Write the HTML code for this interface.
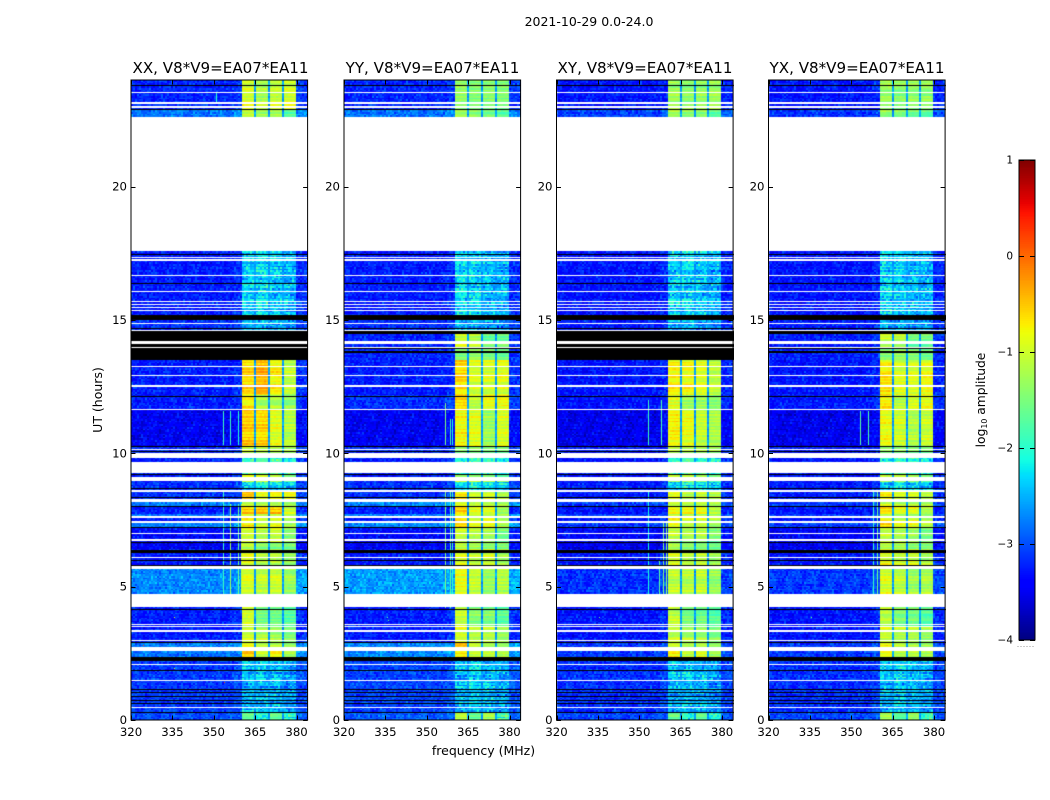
<!DOCTYPE html>
<html lang="en">
<head>
<meta charset="utf-8">
<title>2021-10-29 0.0-24.0</title>
<style>
html,body{margin:0;padding:0;background:#fff;}
#figure{position:relative;width:1050px;height:800px;overflow:hidden;background:#fff;font-family:"DejaVu Sans","Liberation Sans",sans-serif;color:#000;}
canvas{position:absolute;display:block;}
svg{position:absolute;left:0;top:0;}
text{font-family:"DejaVu Sans","Liberation Sans",sans-serif;fill:#000;}
</style>
</head>
<body>
<div id="figure">
  <canvas id="canvas-xx"></canvas>
  <canvas id="canvas-yy"></canvas>
  <canvas id="canvas-xy"></canvas>
  <canvas id="canvas-yx"></canvas>
  <canvas id="canvas-cbar"></canvas>
  <svg id="overlay" width="1050" height="800" viewBox="0 0 1050 800">
    <text x="589" y="26" font-size="12.5" text-anchor="middle">2021-10-29 0.0-24.0</text>
    <text x="220.5" y="73" font-size="15.1" text-anchor="middle">XX, V8*V9=EA07*EA11</text>
    <text x="432.5" y="73" font-size="15.1" text-anchor="middle">YY, V8*V9=EA07*EA11</text>
    <text x="645" y="73" font-size="15.1" text-anchor="middle">XY, V8*V9=EA07*EA11</text>
    <text x="857" y="73" font-size="15.1" text-anchor="middle">YX, V8*V9=EA07*EA11</text>
    <text x="483.5" y="755" font-size="12.5" text-anchor="middle">frequency (MHz)</text>
    <text transform="translate(102,400) rotate(-90)" font-size="12.5" text-anchor="middle">UT (hours)</text>
    <text transform="translate(985,400) rotate(-90)" font-size="12.3" text-anchor="middle">log<tspan font-size="7.8" dy="2">10</tspan><tspan dy="-2"> amplitude</tspan></text>
    <line x1="1017.5" y1="646.5" x2="1035" y2="646.5" stroke="#999" stroke-width="1" stroke-dasharray="1 2"></line>
  </svg>
</div>
<script>
// ---- axis data ----
const panelNames = ['xx', 'yy', 'xy', 'yx'];
const freqTicks = [320, 335, 350, 365, 380];
const hourTicks = [0, 5, 10, 15, 20];
const cbarTicks = [-4, -3, -2, -1, 0, 1];
const cbarTickLabels = ['\u22124', '\u22123', '\u22122', '\u22121', '0', '1'];

// ---- spectral structure (MHz) ----
const bandStarts = [360.4, 365.6, 370.5, 375.6];
const bandEnds = [365.0, 370.0, 375.0, 380.0];
const preBandStart = 357.5;
const gapLevel = -2.6;

// ---- UT segments: the hour at which each row of the level tables begins (top to bottom) ----
const segmentTops = [24, 22.91, 17.59, 15.0, 14.59, 13.95, 13.5, 12.15, 11.63, 10.24, 9.83, 9.26, 8.96, 8.55, 8.18, 7.99, 7.76, 7.61, 7.39, 7.2, 6.68, 6.41, 5.78, 4.73, 3.56, 2.96, 2.59, 2.21, 1.46, 0.3];

// ---- log10 amplitude per segment: [background, band 1, band 2, band 3, band 4] ----
const levelsXX = [
[-3.2,-0.95,-1.2,-1.05,-0.95],[-2.8,-1.05,-1.3,-1.25,-1.7],[-3.25,-2.35,-2.25,-2.4,-2.5],[-3.15,-2.5,-2.5,-2.6,-2.7],[-3.2,-1.2,-1.3,-1.5,-1.5],
[-3.2,-1.2,-1.3,-1.5,-1.5],[-3.25,-0.6,-0.4,-0.75,-1.1],[-3.25,-0.7,-1.2,-1.2,-1.35],[-3.45,-0.55,-0.6,-0.9,-1.15],[-3.15,-1.0,-1.1,-1.1,-1.2],
[-3.25,-1.95,-1.8,-1.85,-2.1],[-3.25,-1.0,-1.0,-1.2,-1.6],[-3.15,-2.25,-2.05,-2.25,-2.35],[-3.15,-0.55,-0.95,-0.85,-0.9],[-2.75,-1.0,-1.1,-1.1,-1.2],
[-3.25,-0.55,-0.5,-0.5,-1.0],[-2.8,-0.95,-1.15,-1.1,-1.2],[-3.25,-0.7,-1.0,-0.9,-1.2],[-2.75,-0.65,-1.0,-0.85,-1.2],[-3.35,-1.05,-1.2,-1.1,-1.45],
[-3.45,-1.1,-1.4,-1.45,-1.5],[-3.25,-0.85,-1.1,-1.1,-1.3],[-2.7,-0.95,-1.1,-1.0,-1.3],[-3.25,-1.0,-1.55,-1.6,-1.75],[-3.25,-1.0,-1.15,-1.25,-1.45],
[-2.75,-0.8,-1.1,-1.1,-1.3],[-2.8,-0.5,-1.0,-0.7,-1.2],[-3.1,-2.4,-2.4,-2.45,-2.6],[-3.1,-2.5,-2.45,-2.5,-2.65],[-3.0,-1.6,-2.0,-1.6,-2.0]];
const levelsYY = [
[-3.2,-1.35,-1.45,-1.4,-1.45],[-2.8,-1.2,-1.35,-1.5,-1.65],[-3.25,-2.25,-2.3,-2.45,-2.5],[-3.15,-2.5,-2.5,-2.6,-2.7],[-3.2,-0.95,-1.1,-1.6,-1.55],
[-3.2,-1.45,-1.3,-1.45,-1.6],[-3.25,-0.6,-0.95,-0.95,-0.9],[-3.15,-0.6,-1.1,-0.85,-0.8],[-3.45,-0.8,-0.9,-1.3,-0.95],[-3.15,-1.4,-1.4,-1.45,-1.5],
[-3.25,-2.1,-1.95,-2.05,-2.2],[-3.25,-1.25,-1.25,-1.35,-1.6],[-3.15,-2.3,-2.15,-2.25,-2.35],[-3.15,-0.7,-1.0,-1.0,-1.2],[-2.7,-0.95,-1.1,-1.15,-1.25],
[-3.25,-0.55,-0.9,-0.9,-1.3],[-2.75,-0.95,-1.1,-1.15,-1.25],[-3.25,-0.6,-1.0,-0.8,-1.2],[-2.7,-0.6,-0.9,-0.85,-1.2],[-3.35,-1.0,-1.1,-1.2,-1.5],
[-3.45,-1.15,-1.3,-1.45,-1.5],[-3.25,-0.85,-1.0,-0.95,-1.2],[-2.6,-0.85,-1.05,-1.3,-1.15],[-3.25,-1.05,-1.45,-1.5,-1.7],[-3.25,-0.95,-1.1,-1.1,-1.3],
[-2.65,-0.3,-0.9,-1.1,-1.2],[-2.7,-0.75,-1.05,-1.1,-1.2],[-3.05,-2.4,-2.3,-2.4,-2.5],[-3.05,-2.45,-2.35,-2.45,-2.55],[-2.95,-1.2,-1.7,-1.3,-1.9]];
const levelsXY = [
[-3.3,-1.3,-1.4,-1.35,-1.3],[-3.05,-1.3,-1.45,-1.45,-1.75],[-3.3,-2.35,-2.3,-2.4,-2.5],[-3.25,-2.55,-2.55,-2.65,-2.7],[-3.25,-1.3,-1.4,-1.6,-1.6],
[-3.25,-1.3,-1.4,-1.6,-1.6],[-3.3,-0.75,-0.8,-0.9,-1.1],[-3.3,-0.9,-1.3,-1.3,-1.4],[-3.5,-0.75,-0.85,-1.05,-1.2],[-3.25,-1.2,-1.25,-1.25,-1.35],
[-3.3,-2.05,-1.9,-1.95,-2.15],[-3.3,-1.15,-1.15,-1.3,-1.6],[-3.25,-2.3,-2.15,-2.25,-2.35],[-3.25,-0.8,-1.05,-0.95,-1.05],[-3.1,-1.15,-1.2,-1.2,-1.3],
[-3.3,-0.75,-0.7,-0.75,-1.1],[-3.1,-1.1,-1.2,-1.2,-1.3],[-3.3,-0.85,-1.05,-1.0,-1.25],[-3.1,-0.8,-1.05,-1.0,-1.25],[-3.4,-1.15,-1.25,-1.2,-1.5],
[-3.5,-1.2,-1.4,-1.45,-1.55],[-3.3,-0.95,-1.15,-1.1,-1.3],[-3.15,-1.1,-1.15,-1.1,-1.35],[-3.3,-1.1,-1.55,-1.6,-1.75],[-3.3,-1.05,-1.2,-1.25,-1.45],
[-3.1,-0.95,-1.15,-1.15,-1.3],[-3.1,-0.7,-1.05,-0.9,-1.25],[-3.15,-2.4,-2.4,-2.45,-2.6],[-3.15,-2.5,-2.45,-2.5,-2.65],[-3.05,-1.6,-1.95,-1.65,-2.0]];
const levelsYX = [
[-3.3,-1.35,-1.45,-1.4,-1.4],[-3.1,-1.3,-1.4,-1.5,-1.65],[-3.3,-2.3,-2.35,-2.45,-2.5],[-3.25,-2.55,-2.55,-2.65,-2.7],[-3.25,-1.05,-1.15,-1.6,-1.55],
[-3.25,-1.45,-1.35,-1.45,-1.6],[-3.3,-0.7,-0.95,-0.95,-0.85],[-3.25,-0.7,-1.15,-0.95,-0.85],[-3.5,-0.85,-1.0,-1.2,-1.05],[-3.25,-1.4,-1.4,-1.45,-1.5],
[-3.3,-2.1,-1.95,-2.05,-2.2],[-3.3,-1.25,-1.25,-1.35,-1.6],[-3.25,-2.3,-2.15,-2.25,-2.35],[-3.25,-0.8,-1.05,-1.05,-1.2],[-3.1,-1.05,-1.15,-1.2,-1.25],
[-3.3,-0.7,-0.95,-0.95,-1.25],[-3.1,-1.05,-1.15,-1.2,-1.25],[-3.3,-0.75,-1.05,-0.9,-1.2],[-3.1,-0.7,-0.95,-0.95,-1.2],[-3.4,-1.05,-1.15,-1.25,-1.5],
[-3.5,-1.2,-1.3,-1.45,-1.5],[-3.3,-0.9,-1.05,-1.0,-1.2],[-3.1,-0.95,-1.1,-1.3,-1.2],[-3.3,-1.1,-1.45,-1.5,-1.7],[-3.3,-1.0,-1.15,-1.15,-1.3],
[-3.1,-0.75,-1.05,-1.15,-1.25],[-3.1,-0.8,-1.1,-1.1,-1.2],[-3.15,-2.4,-2.3,-2.4,-2.5],[-3.15,-2.45,-2.35,-2.45,-2.55],[-3.05,-1.3,-1.75,-1.4,-1.9]];

// ---- flagged time ranges [upper hour, lower hour] ----
const whiteRows = [[23.55,23.51],[23.16,23.10],[23.03,22.95],[22.61,17.59],[17.36,17.33],[17.29,17.23],[16.69,16.65],[16.09,16.05],[15.71,15.68],[15.60,15.56],[15.49,15.45],[15.38,15.34],[14.89,14.85],[14.63,14.59],[14.21,14.09],[13.99,13.95],[13.28,13.24],[12.94,12.90],[12.58,12.54],[12.53,12.47],[11.68,11.63],[10.16,10.13],[10.00,9.81],[9.69,9.25],[9.12,8.96],[8.63,8.55],[8.30,8.18],[7.65,7.59],[7.46,7.40],[7.01,6.98],[6.77,6.73],[6.11,6.08],[5.78,5.65],[4.71,4.23],[3.60,3.56],[3.51,3.47],[3.38,3.30],[3.00,2.96],[2.75,2.58],[2.10,2.06],[1.50,1.46],[0.49,0.45]];
const blackRows = [[23.83,23.81],[22.93,22.91],[17.46,17.42],[16.39,16.36],[15.19,15.00],[14.70,14.66],[12.15,12.11],[10.28,10.24],[10.09,10.07],[9.23,9.19],[8.70,8.66],[8.36,8.33],[8.03,7.99],[7.22,7.19],[6.68,6.64],[6.39,6.36],[6.32,6.28],[6.00,5.96],[5.81,5.78],[4.16,4.11],[2.93,2.89],[2.35,2.20],[1.88,1.84],[1.16,1.13],[1.04,1.01],[0.90,0.87],[0.75,0.72],[0.63,0.60],[0.50,0.47],[0.31,0.28]];
const blackRowsXX = [[14.59,14.21],[14.09,14.00],[13.95,13.50]];
const blackRowsYY = [[14.59,14.48],[13.95,13.91],[13.84,13.77]];
const blackRowsXY = [[14.59,14.21],[14.09,14.00],[13.95,13.50]];
const blackRowsYX = [[14.59,14.48],[13.95,13.91],[13.84,13.77]];

// ---- narrow interference lines [MHz, upper hour, lower hour, level] ----
const linesXX = [[353.3,11.6,10.3,-1.9],[355.7,11.6,10.3,-1.9],[358.7,11.6,10.3,-2.0],[353.3,8.6,4.7,-1.9],[355.7,8.1,4.7,-1.3],[358.8,8.1,4.7,-1.6],[359.8,8.1,4.7,-1.1],[350.7,23.5,23.1,-2.0]];
const linesYY = [[356.6,11.9,10.3,-1.5],[358.3,11.3,10.3,-1.9],[359.0,11.3,10.3,-2.1],[356.6,8.6,4.2,-1.5],[358.3,8.6,4.2,-1.7],[359.3,8.6,4.7,-1.9]];
const linesXY = [[353.2,12.0,10.3,-1.9],[357.9,12.0,10.3,-1.8],[353.2,8.6,4.7,-2.1],[357.0,6.0,4.7,-1.7],[358.6,7.4,4.7,-1.5],[359.8,7.4,4.7,-1.4]];
const linesYX = [[353.2,11.6,10.3,-1.7],[356.0,11.6,10.3,-1.8],[358.0,8.6,4.7,-1.9],[359.4,8.6,4.7,-1.6]];

// ---- isolated bright pixels [MHz, hour, level] ----
const hotXX = [[324.4,2.81,0.1],[335.5,3.85,-0.9],[353.7,1.42,0.2],[335.6,1.95,-0.8]];
const hotYY = [[335.6,3.85,-1.7],[335.9,3.75,-1.6]];
const hotXY = [[335.5,3.85,-1.6]];
const hotYX = [[335.4,3.85,-1.5]];

// ---- grain of the dynamic spectrum as typed digits 0-9 (cell texture, tiled at two lengths) ----
const grainA = "3806152947732190586412075938164729035518267094325816907243691580274136985207146893025716348209751";
const grainB = "92740168352907431658027419368502847916305729184603752910486273659014827365190482736509128";
const rowStripe = "47182936051728493606184927503618492750367120594836271";

// ---- colour scale range ----
const cmapMin = -4;
const cmapMax = 1;

// ---- geometry ----
const panelLefts = [131, 344, 556.5, 768.5];
const panelWidth = 176.6;
const plotTop = 80;
const plotBottom = 720;
const freqMin = 320;
const freqMax = 384;
const hourMin = 0;
const hourMax = 24;
const channelWidth = 0.72;
const rowHours = 0.06;
const cbarLeft = 1019;
const cbarRight = 1035;
const cbarTop = 160;
const cbarBottom = 640;

const levelTables = [levelsXX, levelsYY, levelsXY, levelsYX];
const blackExtras = [blackRowsXX, blackRowsYY, blackRowsXY, blackRowsYX];
const lineTables = [linesXX, linesYY, linesXY, linesYX];
const hotTables = [hotXX, hotYY, hotXY, hotYX];

function xScale(panelIndex, freq) {
  return panelLefts[panelIndex] + (freq - freqMin) / (freqMax - freqMin) * panelWidth;
}
function yScale(hour) {
  return plotBottom - (hour - hourMin) / (hourMax - hourMin) * (plotBottom - plotTop);
}
function cbarScale(value) {
  return cbarBottom - (value - cmapMin) / (cmapMax - cmapMin) * (cbarBottom - cbarTop);
}
function ramp(stops, t) {
  for (let i = 1; i < stops.length; i++) {
    if (t <= stops[i][0]) {
      const a = stops[i - 1], b = stops[i];
      return a[1] + (b[1] - a[1]) * (t - a[0]) / (b[0] - a[0]);
    }
  }
  return stops[stops.length - 1][1];
}
const jetRed = [[0,0],[0.35,0],[0.66,1],[0.89,1],[1,0.5]];
const jetGreen = [[0,0],[0.125,0],[0.375,1],[0.64,1],[0.91,0],[1,0]];
const jetBlue = [[0,0.5],[0.11,1],[0.34,1],[0.65,0],[1,0]];
const jetLookup = [];
for (let i = 0; i < 256; i++) {
  const t = i / 255;
  jetLookup.push('rgb(' + Math.round(ramp(jetRed, t) * 255) + ',' + Math.round(ramp(jetGreen, t) * 255) + ',' + Math.round(ramp(jetBlue, t) * 255) + ')');
}
function colorOf(level) {
  const t = (level - cmapMin) / (cmapMax - cmapMin);
  return jetLookup[Math.max(0, Math.min(255, Math.round(t * 255)))];
}
function segmentIndex(hour) {
  let idx = 0;
  for (let i = 0; i < segmentTops.length; i++) {
    if (hour <= segmentTops[i]) idx = i;
  }
  return idx;
}
function bandOf(freq) {
  for (let b = 0; b < bandStarts.length; b++) {
    if (freq >= bandStarts[b] && freq < bandEnds[b]) return b;
  }
  return -1;
}

function drawPanel(p) {
  const left = Math.floor(panelLefts[p]);
  const right = Math.ceil(panelLefts[p] + panelWidth);
  const canvas = document.getElementById('canvas-' + panelNames[p]);
  canvas.width = right - left;
  canvas.height = plotBottom - plotTop;
  canvas.style.left = left + 'px';
  canvas.style.top = plotTop + 'px';
  const ctx = canvas.getContext('2d');
  ctx.translate(-left, -plotTop);
  const table = levelTables[p];
  const nRows = Math.round((hourMax - hourMin) / rowHours);
  const nCols = Math.ceil((freqMax - freqMin) / channelWidth);
  for (let r = 0; r < nRows; r++) {
    const hTop = hourMax - r * rowHours;
    const hBot = hTop - rowHours;
    const row = table[segmentIndex((hTop + hBot) / 2)];
    const yA = Math.round(yScale(hTop));
    const yB = Math.round(yScale(hBot));
    const stripe = (rowStripe.charCodeAt((r + p * 7) % rowStripe.length) - 48 - 4.5) / 4.5;
    for (let c = 0; c < nCols; c++) {
      const f0 = freqMin + c * channelWidth;
      const f1 = f0 + channelWidth;
      const fc = (f0 + f1) / 2;
      const a = grainA.charCodeAt((c * 17 + r * 31 + p * 7) % grainA.length) - 48;
      const b = grainB.charCodeAt((c * 5 + r * 11 + p * 23) % grainB.length) - 48;
      const grain = (a + b - 9) / 9;
      const band = bandOf(fc);
      let value;
      if (band >= 0) {
        const base = row[band + 1];
        value = base < -1.8 ? base + grain * 0.5 + stripe * 0.2 : base + grain * 0.12 + stripe * 0.2;
      } else if (fc >= bandStarts[0] && fc < bandEnds[bandEnds.length - 1]) {
        value = gapLevel + grain * 0.2;
      } else {
        const shoulder = fc >= preBandStart ? 0.1 : 0;
        value = row[0] + shoulder + grain * 0.34 + stripe * 0.04;
      }
      ctx.fillStyle = colorOf(value);
      const xA = Math.round(xScale(p, f0));
      const xB = Math.round(xScale(p, f1));
      ctx.fillRect(xA, yA, xB - xA, yB - yA);
    }
  }
  lineTables[p].forEach(function (ln) {
    ctx.fillStyle = colorOf(ln[3]);
    const x = Math.round(xScale(p, ln[0]));
    const yA = Math.round(yScale(ln[1]));
    ctx.fillRect(x, yA, 1, Math.round(yScale(ln[2])) - yA);
  });
  hotTables[p].forEach(function (h) {
    ctx.fillStyle = colorOf(h[2]);
    ctx.fillRect(Math.round(xScale(p, h[0])), Math.round(yScale(h[1])), 1, 1);
  });
  function paintRows(list, color) {
    ctx.fillStyle = color;
    list.forEach(function (range) {
      const yA = Math.round(yScale(range[0]));
      const yB = Math.round(yScale(range[1]));
      ctx.fillRect(left, yA, right - left, Math.max(1, yB - yA));
    });
  }
  paintRows(blackRows, '#000');
  paintRows(blackExtras[p], '#000');
  paintRows(whiteRows, '#fff');
}
panelNames.forEach(function (name, p) { drawPanel(p); });

// colorbar gradient
(function () {
  const canvas = document.getElementById('canvas-cbar');
  canvas.width = cbarRight - cbarLeft;
  canvas.height = cbarBottom - cbarTop;
  canvas.style.left = cbarLeft + 'px';
  canvas.style.top = cbarTop + 'px';
  const ctx = canvas.getContext('2d');
  for (let y = cbarTop; y < cbarBottom; y++) {
    const v = cmapMin + (cbarBottom - y - 0.5) / (cbarBottom - cbarTop) * (cmapMax - cmapMin);
    ctx.fillStyle = colorOf(v);
    ctx.fillRect(0, y - cbarTop, cbarRight - cbarLeft, 1);
  }
})();

// axes overlay
const NS = 'http://www.w3.org/2000/svg';
const overlay = document.getElementById('overlay');
function makeLine(x1, y1, x2, y2) {
  const el = document.createElementNS(NS, 'line');
  el.setAttribute('x1', x1);
  el.setAttribute('y1', y1);
  el.setAttribute('x2', x2);
  el.setAttribute('y2', y2);
  el.setAttribute('stroke', '#000');
  el.setAttribute('stroke-width', '1');
  overlay.appendChild(el);
  return el;
}
function makeText(x, y, str, anchor, size) {
  const el = document.createElementNS(NS, 'text');
  el.setAttribute('x', x);
  el.setAttribute('y', y);
  el.setAttribute('text-anchor', anchor);
  el.setAttribute('font-size', size);
  el.textContent = str;
  overlay.appendChild(el);
  return el;
}
const tickLen = 4.5;
const tickFont = 11.7;
panelNames.forEach(function (name, p) {
  const left = panelLefts[p];
  const right = left + panelWidth;
  const frame = document.createElementNS(NS, 'rect');
  frame.setAttribute('x', left);
  frame.setAttribute('y', plotTop);
  frame.setAttribute('width', panelWidth);
  frame.setAttribute('height', plotBottom - plotTop);
  frame.setAttribute('fill', 'none');
  frame.setAttribute('stroke', '#000');
  frame.setAttribute('stroke-width', '1');
  
  
  overlay.appendChild(frame);
  freqTicks.forEach(function (f) {
    const x = Math.round(xScale(p, f)) + 0.5;
    const tick = makeLine(x, plotBottom, x, plotBottom - tickLen);
    
    
    const tickTop = makeLine(x, plotTop, x, plotTop + tickLen);
    
    
    const label = makeText(xScale(p, f), plotBottom + 16, String(f), 'middle', tickFont);
    
    
  });
  hourTicks.forEach(function (h) {
    const y = Math.round(yScale(h)) + 0.5;
    const tickL = makeLine(left, y, left + tickLen, y);
    
    
    const tickR = makeLine(right, y, right - tickLen, y);
    
    
    const label = makeText(left - 4, yScale(h) + 4, String(h), 'end', tickFont);
    
    
  });
});

const cbarFrame = document.createElementNS(NS, 'rect');
cbarFrame.setAttribute('x', cbarLeft);
cbarFrame.setAttribute('y', cbarTop);
cbarFrame.setAttribute('width', cbarRight - cbarLeft);
cbarFrame.setAttribute('height', cbarBottom - cbarTop);
cbarFrame.setAttribute('fill', 'none');
cbarFrame.setAttribute('stroke', '#000');
cbarFrame.setAttribute('stroke-width', '1');


overlay.appendChild(cbarFrame);
cbarTicks.forEach(function (v, i) {
  const y = Math.round(cbarScale(v)) + 0.5;
  const t1 = makeLine(cbarLeft, y, cbarLeft + 5, y);
  
  
  const t2 = makeLine(cbarRight, y, cbarRight - 5, y);
  
  
  const label = makeText(cbarLeft - 6, cbarScale(v) + 3.5, cbarTickLabels[i], 'end', 10.5);
  
  
});
</script>
</body>
</html>
